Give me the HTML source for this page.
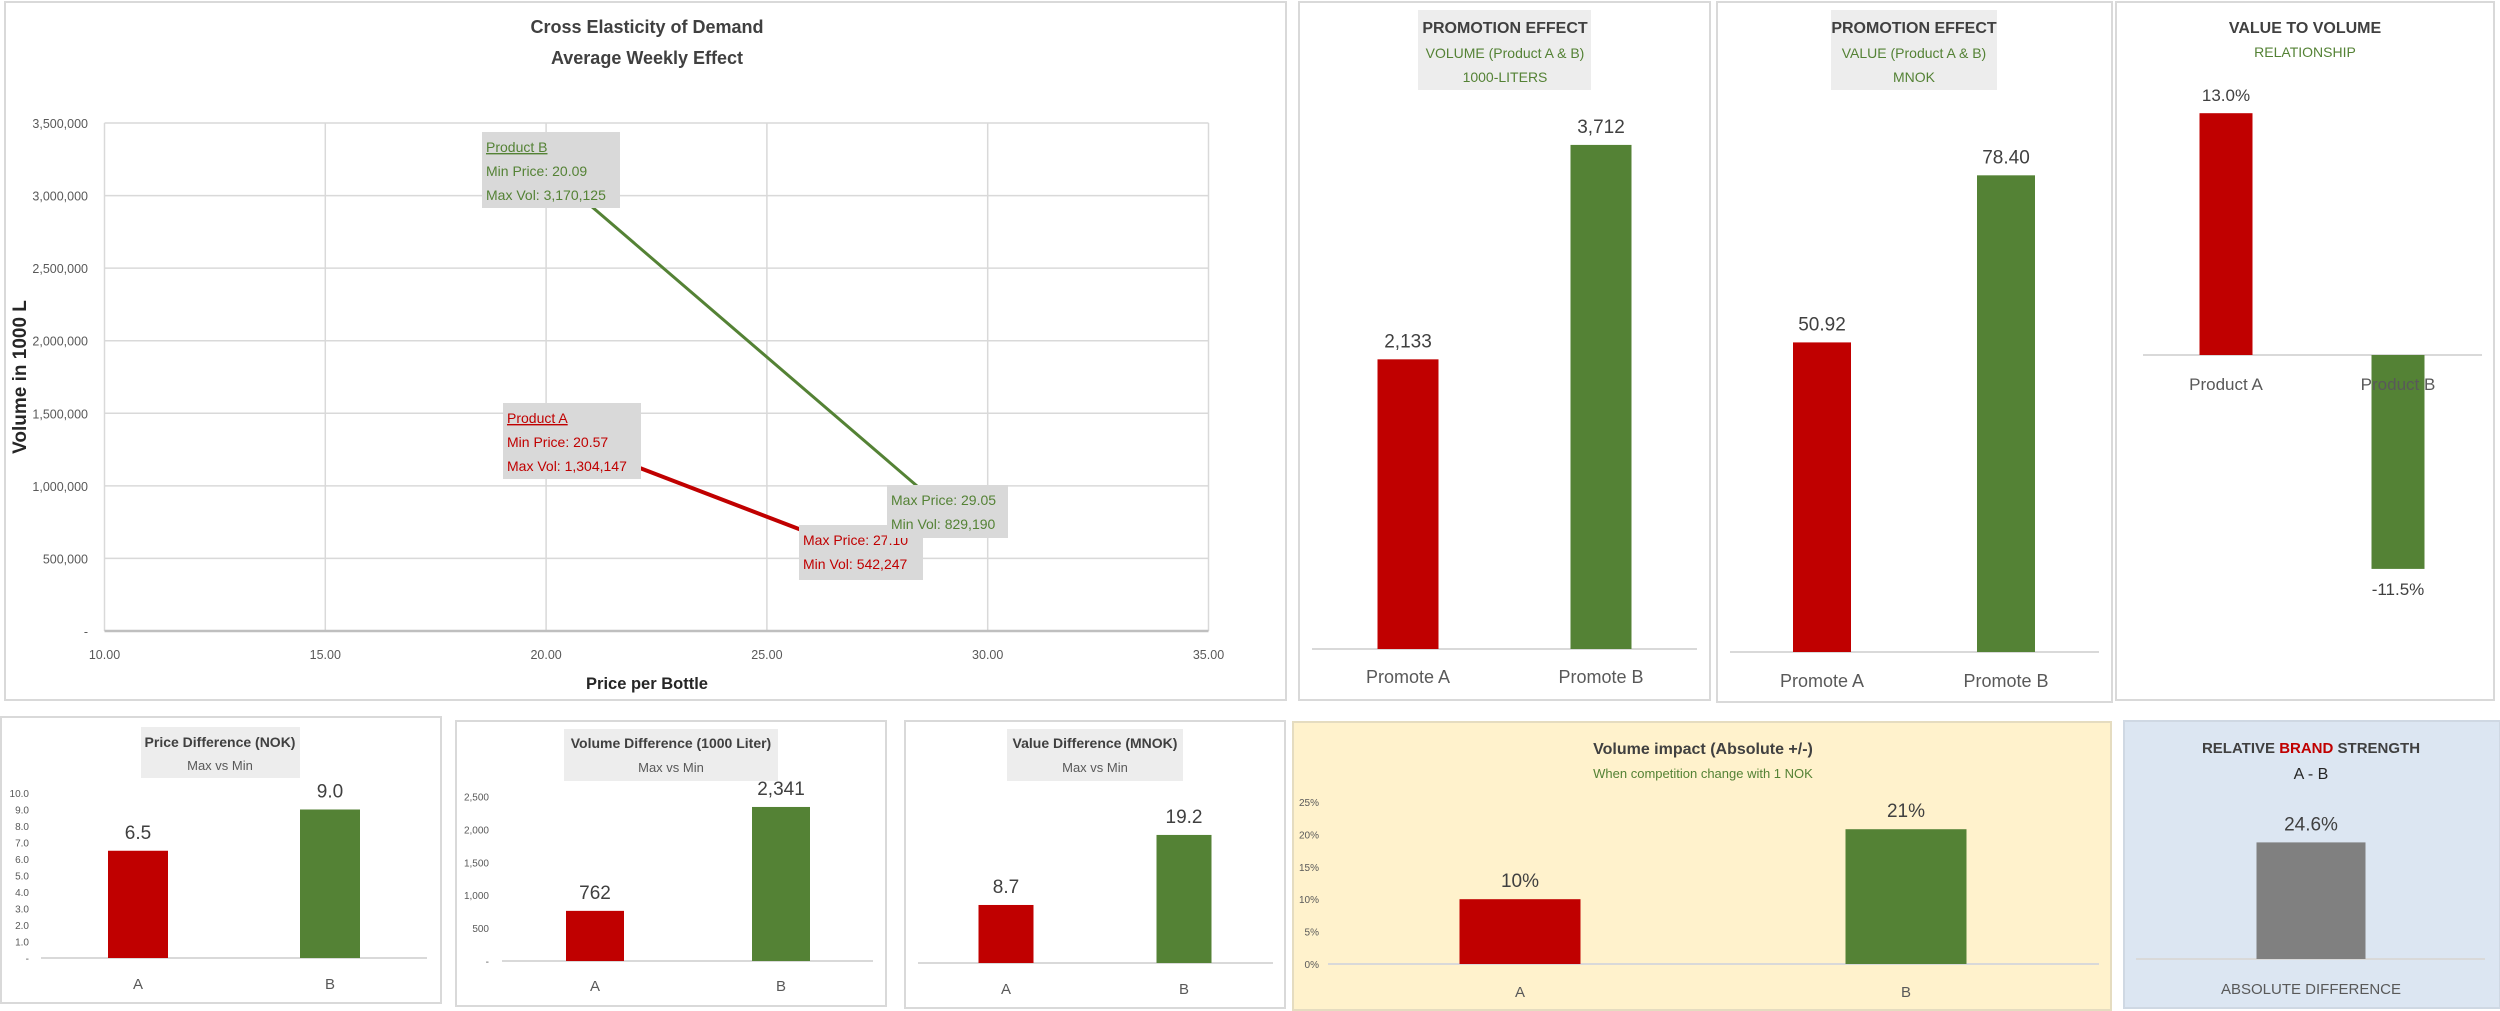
<!DOCTYPE html>
<html><head><meta charset="utf-8">
<style>
html,body{margin:0;padding:0;background:#fff;}
body{width:2500px;height:1011px;overflow:hidden;}
svg{display:block;font-family:"Liberation Sans Narrow","Liberation Sans",sans-serif;}
</style></head>
<body>
<svg id="dash" width="2500" height="1011" viewBox="0 0 2500 1011" xmlns="http://www.w3.org/2000/svg">
<rect x="5" y="2" width="1281" height="698" fill="#fff" stroke="#d9d9d9" stroke-width="2"/>
<rect x="1299" y="2" width="411" height="698" fill="#fff" stroke="#d9d9d9" stroke-width="2"/>
<rect x="1717" y="2" width="395" height="700" fill="#fff" stroke="#d9d9d9" stroke-width="2"/>
<rect x="2116" y="2" width="378" height="698" fill="#fff" stroke="#d9d9d9" stroke-width="2"/>
<rect x="1" y="717" width="440" height="286" fill="#fff" stroke="#d9d9d9" stroke-width="2"/>
<rect x="456" y="721" width="430" height="285" fill="#fff" stroke="#d9d9d9" stroke-width="2"/>
<rect x="905" y="721" width="380" height="287" fill="#fff" stroke="#d9d9d9" stroke-width="2"/>
<rect x="1293" y="722" width="818" height="288" fill="#fff2cc" stroke="#e5dcc0" stroke-width="2"/>
<rect x="2124" y="721" width="376" height="287" fill="#dce6f2" stroke="#cfd8e3" stroke-width="2"/>

<rect x="1418" y="10" width="173" height="80" fill="#ededed"/>
<rect x="1831" y="10" width="166" height="80" fill="#ededed"/>
<rect x="141" y="727" width="159" height="51" fill="#ededed"/>
<rect x="564" y="729" width="214" height="52" fill="#ededed"/>
<rect x="1007" y="729" width="176" height="52" fill="#ededed"/>

<g font-size="18" font-weight="bold" fill="#404040" text-anchor="middle">
<text x="647" y="33">Cross Elasticity of Demand</text>
<text x="647" y="64">Average Weekly Effect</text>
<text x="1505" y="33" font-size="16">PROMOTION EFFECT</text>
<text x="1914" y="33" font-size="16">PROMOTION EFFECT</text>
<text x="2305" y="33" font-size="16">VALUE TO VOLUME</text>
<text x="220" y="747" font-size="14">Price Difference (NOK)</text>
<text x="671" y="748" font-size="14">Volume Difference (1000 Liter)</text>
<text x="1095" y="748" font-size="14">Value Difference (MNOK)</text>
<text x="1703" y="754" font-size="16">Volume impact (Absolute +/-)</text>
<text x="2311" y="753" font-size="15">RELATIVE <tspan fill="#c00000">BRAND</tspan> STRENGTH</text>
</g>
<g font-size="14" fill="#548235" text-anchor="middle">
<text x="1505" y="58">VOLUME (Product A &amp; B)</text>
<text x="1505" y="82">1000-LITERS</text>
<text x="1914" y="58">VALUE (Product A &amp; B)</text>
<text x="1914" y="82">MNOK</text>
<text x="2305" y="57">RELATIONSHIP</text>
<text x="1703" y="778" font-size="13">When competition change with 1 NOK</text>
</g>
<g font-size="13" fill="#595959" text-anchor="middle">
<text x="220" y="770">Max vs Min</text>
<text x="671" y="772">Max vs Min</text>
<text x="1095" y="772">Max vs Min</text>
<text x="2311" y="779" font-size="16" fill="#262626">A - B</text>
<text x="2311" y="994" font-size="15">ABSOLUTE DIFFERENCE</text>
</g>

<g id="scatter"></g>
<g id="bars"></g>
</svg>
<script>
// ---- Elasticity scatter data ----
const priceTicks = [10, 15, 20, 25, 30, 35];
const volumeTicks = [0, 500000, 1000000, 1500000, 2000000, 2500000, 3000000, 3500000];
const productAPrices = [20.57, 27.10];
const productAVolumes = [1304147, 542247];
const productBPrices = [20.09, 29.05];
const productBVolumes = [3170125, 829190];

// ---- Bar chart data ----
const promoCats = ["Promote A", "Promote B"];
const promoVolume = [2133, 3712];
const promoValue = [50.92, 78.40];
const relCats = ["Product A", "Product B"];
const relValues = [13.0, -11.5];
const abCats = ["A", "B"];
const priceDiff = [6.5, 9.0];
const priceDiffTicks = [0, 1, 2, 3, 4, 5, 6, 7, 8, 9, 10];
const volumeDiff = [762, 2341];
const volumeDiffTicks = [0, 500, 1000, 1500, 2000, 2500];
const valueDiff = [8.7, 19.2];
const impactValues = [10, 20.8];
const impactLabels = ["10%", "21%"];
const impactTicks = [0, 5, 10, 15, 20, 25];
const brandValues = [24.6];

const NS = "http://www.w3.org/2000/svg";
function mk(parent, tag, attrs, text) {
  const e = document.createElementNS(NS, tag);
  for (const k in attrs) e.setAttribute(k, attrs[k]);
  if (text !== undefined) e.textContent = text;
  parent.appendChild(e);
  return e;
}
const fmt = v => v.toLocaleString("en-US");
const RED = "#c00000", GREEN = "#548235", GRAY = "#808080";

// ---- scatter ----
const sc = document.getElementById("scatter");
const PX0 = 104.5, PX1 = 1208.5, PY0 = 631, PY1 = 123;
const xS = v => PX0 + (v - 10) / 25 * (PX1 - PX0);
const yS = v => PY0 - v / 3500000 * (PY0 - PY1);
priceTicks.forEach(t => {
  const l = mk(sc, "line", {x1: xS(t), x2: xS(t), y1: PY1, y2: PY0, stroke: "#d9d9d9", "stroke-width": 1.5});
  
  
  const tx = mk(sc, "text", {x: xS(t), y: 659, "font-size": 12.5, fill: "#595959", "text-anchor": "middle"}, t.toFixed(2));
  
  
});
volumeTicks.forEach(t => {
  const l = mk(sc, "line", {x1: PX0, x2: PX1, y1: yS(t), y2: yS(t), stroke: t === 0 ? "#bfbfbf" : "#d9d9d9", "stroke-width": t === 0 ? 2.5 : 1.5});
  
  
  const tx = mk(sc, "text", {x: 88, y: yS(t) + 5, "font-size": 12.5, fill: "#595959", "text-anchor": "end"}, t === 0 ? "-" : fmt(t));
  
  
});
const xt = mk(sc, "text", {x: 647, y: 689, "font-size": 16.5, "font-weight": "bold", fill: "#262626", "text-anchor": "middle"}, "Price per Bottle");


const yt = mk(sc, "text", {x: 0, y: 0, "font-size": 19, "font-weight": "bold", fill: "#262626", "text-anchor": "middle", transform: "translate(26,377) rotate(-90)", "font-family": "Liberation Sans, sans-serif"}, "Volume in 1000 L");



const lb = mk(sc, "line", {x1: xS(productBPrices[0]), y1: yS(productBVolumes[0]), x2: xS(productBPrices[1]), y2: yS(productBVolumes[1]), stroke: GREEN, "stroke-width": 3});


const la = mk(sc, "line", {x1: xS(productAPrices[0]), y1: yS(productAVolumes[0]), x2: xS(productAPrices[1]), y2: yS(productAVolumes[1]), stroke: RED, "stroke-width": 4});



function labelBox(name, x, y, w, h, color, lines, underlineFirst) {
  const g = mk(sc, "g", {});
  
  
  mk(g, "rect", {x: x, y: y, width: w, height: h, fill: "#d9d9d9"});
  lines.forEach((s, i) => {
    const t = mk(g, "text", {x: x + 4, y: y + 20 + i * 24, "font-size": 14, fill: color}, s);
    if (i === 0 && underlineFirst) t.setAttribute("text-decoration", "underline");
  });
}
labelBox("product-b-start-label", 482, 132, 138, 76, GREEN, ["Product B", "Min Price:  " + productBPrices[0].toFixed(2), "Max Vol:  " + fmt(productBVolumes[0])], true);
labelBox("product-a-start-label", 503, 403, 138, 76, RED, ["Product A", "Min Price:  " + productAPrices[0].toFixed(2), "Max Vol:  " + fmt(productAVolumes[0])], true);
labelBox("product-a-end-label", 799, 525, 124, 55, RED, ["Max Price:  " + productAPrices[1].toFixed(2), "Min Vol:  " + fmt(productAVolumes[1])], false);
labelBox("product-b-end-label", 887, 485, 121, 53, GREEN, ["Max Price: " + productBPrices[1].toFixed(2), "Min Vol: " + fmt(productBVolumes[1])], false);

// ---- bar charts ----
const bg = document.getElementById("bars");
function barChart(name, o, vals, labels, cats, colors) {
  const g = mk(bg, "g", {});
  
  
  const ys = v => o.base - v * o.k;
  if (o.ticks) o.ticks.forEach(t => {
    const tx = mk(g, "text", {x: o.tickX, y: ys(t) + 4, "font-size": 10, fill: "#595959", "text-anchor": "end"}, t === 0 ? (o.zeroLabel || "-") : o.tickFmt(t));
    
    
  });
  const ax = mk(g, "line", {x1: o.ax[0], x2: o.ax[1], y1: o.base, y2: o.base, stroke: "#d9d9d9", "stroke-width": 2});
  
  
  vals.forEach((v, i) => {
    const cx = o.cx[i];
    const top = Math.min(ys(v), o.base), h = Math.abs(v * o.k);
    const r = mk(g, "rect", {x: cx - o.w / 2, y: top, width: o.w, height: h, fill: colors[i]});
    
    
    const ly = v >= 0 ? ys(v) - o.lgap : ys(v) + o.lgap + 14;
    const t = mk(g, "text", {x: cx, y: ly, "font-size": o.fs, fill: "#404040", "text-anchor": "middle"}, labels[i]);
    
    
    if (cats) {
      const c = mk(g, "text", {x: cx, y: o.catY, "font-size": o.cfs, fill: "#595959", "text-anchor": "middle"}, cats[i]);
      
      
    }
  });
}
barChart("promo-volume-chart", {base: 649, k: 0.1358, cx: [1408, 1601], w: 61, ax: [1312, 1697], lgap: 12, fs: 19, catY: 683, cfs: 18},
  promoVolume, promoVolume.map(fmt), promoCats, [RED, GREEN]);
barChart("promo-value-chart", {base: 652, k: 6.08, cx: [1822, 2006], w: 58, ax: [1730, 2099], lgap: 12, fs: 19, catY: 687, cfs: 18},
  promoValue, promoValue.map(v => v.toFixed(2)), promoCats, [RED, GREEN]);
barChart("value-volume-chart", {base: 355, k: 18.6, cx: [2226, 2398], w: 53, ax: [2143, 2482], lgap: 12, fs: 17, catY: 390, cfs: 17},
  relValues, relValues.map(v => v.toFixed(1) + "%"), relCats, [RED, GREEN]);
barChart("price-diff-chart", {base: 958, k: 16.5, cx: [138, 330], w: 60, ax: [41, 427], lgap: 12, fs: 19, catY: 989, cfs: 15, ticks: priceDiffTicks, tickX: 29, tickFmt: t => t.toFixed(1)},
  priceDiff, priceDiff.map(v => v.toFixed(1)), abCats, [RED, GREEN]);
barChart("volume-diff-chart", {base: 961, k: 0.0658, cx: [595, 781], w: 58, ax: [502, 873], lgap: 12, fs: 19, catY: 991, cfs: 15, ticks: volumeDiffTicks, tickX: 489, tickFmt: fmt},
  volumeDiff, volumeDiff.map(fmt), abCats, [RED, GREEN]);
barChart("value-diff-chart", {base: 963, k: 6.67, cx: [1006, 1184], w: 55, ax: [918, 1273], lgap: 12, fs: 19, catY: 994, cfs: 15},
  valueDiff, valueDiff.map(v => v.toFixed(1)), abCats, [RED, GREEN]);
barChart("volume-impact-chart", {base: 964, k: 6.48, cx: [1520, 1906], w: 121, ax: [1328, 2099], lgap: 12, fs: 19, catY: 997, cfs: 15, ticks: impactTicks, tickX: 1319, tickFmt: t => t + "%", zeroLabel: "0%"},
  impactValues, impactLabels, abCats, [RED, GREEN]);
barChart("brand-strength-chart", {base: 959, k: 4.74, cx: [2311], w: 109, ax: [2136, 2485], lgap: 12, fs: 19},
  brandValues, brandValues.map(v => v.toFixed(1) + "%"), null, [GRAY]);
</script>
</body></html>
